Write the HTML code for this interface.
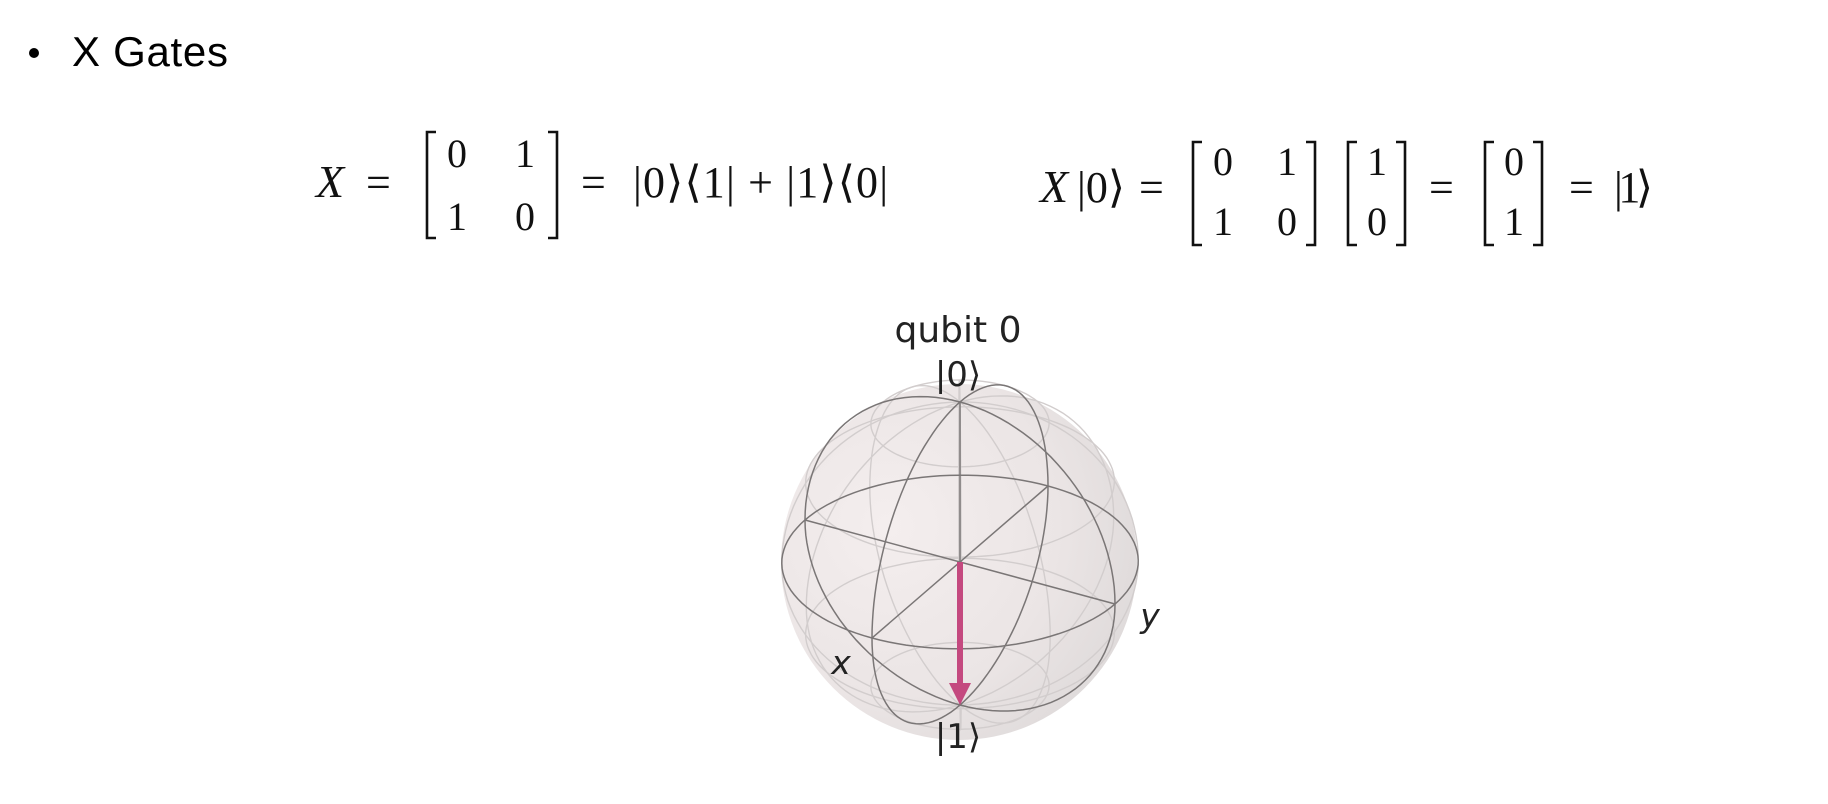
<!DOCTYPE html>
<html><head><meta charset="utf-8">
<style>
html,body{margin:0;padding:0;background:#fff;}
svg{display:block;}
.m{font-family:"Liberation Serif","DejaVu Serif",serif;fill:#111;}
.s{font-family:"DejaVu Sans","Liberation Sans",sans-serif;fill:#222;}
</style></head>
<body>
<svg id="page" width="1828" height="804" viewBox="0 0 1828 804" xmlns="http://www.w3.org/2000/svg">
<defs>
<radialGradient id="sg" cx="0.3" cy="0.4" r="0.8">
<stop offset="0" stop-color="#f4eeee"/>
<stop offset="0.6" stop-color="#ebe5e5"/>
<stop offset="1" stop-color="#dcd8d8"/>
</radialGradient>
</defs>
<circle cx="34" cy="53" r="5" fill="#000"/>
<text x="72" y="66" font-family="Liberation Sans, sans-serif" font-size="42" textLength="156" fill="#000">X Gates</text>

<g class="m">
<text x="316" y="197" font-size="46" font-style="italic" textLength="37">X</text>
<text x="366" y="197" font-size="44" textLength="34">=</text>
<path d="M436,132 H427 V238 H436 M548,132 H557 V238 H548" fill="none" stroke="#111" stroke-width="2.6"/>
<text x="457" y="167" font-size="40" text-anchor="middle">0</text>
<text x="525" y="167" font-size="40" text-anchor="middle">1</text>
<text x="457" y="230" font-size="40" text-anchor="middle">1</text>
<text x="525" y="230" font-size="40" text-anchor="middle">0</text>
<text x="581" y="197" font-size="44" textLength="34">=</text>
<text x="633" y="197" font-size="44" textLength="255">|0⟩⟨1| + |1⟩⟨0|</text>
</g>

<g class="m">
<text x="1040" y="202" font-size="46" font-style="italic" textLength="36">X</text>
<text x="1077" y="202" font-size="44" textLength="48">|0⟩</text>
<text x="1139" y="202" font-size="44" textLength="31">=</text>
<path d="M1202,142 H1193 V245 H1202 M1306,142 H1315 V245 H1306" fill="none" stroke="#111" stroke-width="2.6"/>
<text x="1223" y="175" font-size="40" text-anchor="middle">0</text>
<text x="1287" y="175" font-size="40" text-anchor="middle">1</text>
<text x="1223" y="235" font-size="40" text-anchor="middle">1</text>
<text x="1287" y="235" font-size="40" text-anchor="middle">0</text>
<path d="M1357,142 H1348 V245 H1357 M1396,142 H1405 V245 H1396" fill="none" stroke="#111" stroke-width="2.6"/>
<text x="1377" y="175" font-size="40" text-anchor="middle">1</text>
<text x="1377" y="235" font-size="40" text-anchor="middle">0</text>
<text x="1429" y="202" font-size="44" textLength="30">=</text>
<path d="M1494,142 H1485 V245 H1494 M1533,142 H1542 V245 H1533" fill="none" stroke="#111" stroke-width="2.6"/>
<text x="1514" y="175" font-size="40" text-anchor="middle">0</text>
<text x="1514" y="235" font-size="40" text-anchor="middle">1</text>
<text x="1569" y="202" font-size="44" textLength="30">=</text>
<text x="1614" y="202" font-size="44" textLength="39">|1⟩</text>
</g>

<g id="bloch">
<circle cx="959" cy="562" r="178" fill="url(#sg)"/>
<g id="grid"></g>
<g id="main"></g>
</g>
<text class="s" x="958" y="342" font-size="36" text-anchor="middle">qubit 0</text>
<text class="s" x="958" y="386" font-size="34" text-anchor="middle">|0⟩</text>
<text class="s" x="958" y="748" font-size="34" text-anchor="middle">|1⟩</text>
<text class="s" x="841" y="674" font-size="33" font-style="italic" text-anchor="middle">x</text>
<text class="s" x="1150" y="627" font-size="33" font-style="italic" text-anchor="middle">y</text>

<script>
// state vector (Bloch coordinates)
var stateX = [0];
var stateY = [0];
var stateZ = [-1];
var latitudes = [-60, -30, 30, 60];
var longitudes = [30, 60, 120, 150];

var C = [960, 562];
var ex = [-88, 76], ey = [155, 42];
function proj(x, y, z) {
  var zs = z > 0 ? 160 : 143;
  return [C[0] + x*ex[0] + y*ey[0], C[1] + x*ex[1] + y*ey[1] - z*zs];
}
function pathOf(fn) {
  var d = '';
  for (var i = 0; i <= 120; i++) {
    var t = i / 120 * 2 * Math.PI;
    var p = fn(t);
    var q = proj(p[0], p[1], p[2]);
    d += (i ? 'L' : 'M') + q[0].toFixed(1) + ',' + q[1].toFixed(1);
  }
  return d;
}
var NS = 'http://www.w3.org/2000/svg';
var grid = document.getElementById('grid');
var main = document.getElementById('main');
function addPath(g, d, stroke, w, name) {
  var p = document.createElementNS(NS, 'path');
  p.setAttribute('d', d);
  p.setAttribute('fill', 'none');
  p.setAttribute('stroke', stroke);
  p.setAttribute('stroke-width', w);
  
  
  g.appendChild(p);
}
latitudes.forEach(function (a) {
  var r = Math.cos(a * Math.PI / 180), z = Math.sin(a * Math.PI / 180);
  addPath(grid, pathOf(function (t) { return [r*Math.cos(t), r*Math.sin(t), z]; }), '#d2cdcd', 1.4, 'latitude-line');
});
longitudes.forEach(function (a) {
  var c = Math.cos(a * Math.PI / 180), s = Math.sin(a * Math.PI / 180);
  addPath(grid, pathOf(function (t) { return [c*Math.cos(t), s*Math.cos(t), Math.sin(t)]; }), '#d2cdcd', 1.4, 'longitude-line');
});
var dark = '#7a7676';
addPath(main, pathOf(function (t) { return [Math.cos(t), Math.sin(t), 0]; }), dark, 1.5, 'equator');
addPath(main, pathOf(function (t) { return [Math.cos(t), 0, Math.sin(t)]; }), dark, 1.5, 'xz-meridian');
addPath(main, pathOf(function (t) { return [0, Math.cos(t), Math.sin(t)]; }), dark, 1.5, 'yz-meridian');
function seg(a, b, name) {
  var p = proj(a[0], a[1], a[2]), q = proj(b[0], b[1], b[2]);
  addPath(main, 'M' + p[0] + ',' + p[1] + 'L' + q[0] + ',' + q[1], dark, 1.5, name);
}
seg([1,0,0], [-1,0,0], 'x-axis-line');
seg([0,1,0], [0,-1,0], 'y-axis-line');
seg([0,0,1], [0,0,-1], 'z-axis-line');

// state arrow
var o = proj(0, 0, 0);
var tip = proj(stateX[0], stateY[0], stateZ[0]);
var dx = tip[0] - o[0], dy = tip[1] - o[1], L = Math.sqrt(dx*dx + dy*dy) || 1;
var ux = dx / L, uy = dy / L, hl = 22, hw = 11;
var bx = tip[0] - ux*hl, by = tip[1] - uy*hl;
var shaft = document.createElementNS(NS, 'line');
shaft.setAttribute('x1', o[0]); shaft.setAttribute('y1', o[1]);
shaft.setAttribute('x2', bx); shaft.setAttribute('y2', by);
shaft.setAttribute('stroke', '#c4497f'); shaft.setAttribute('stroke-width', '6');


main.appendChild(shaft);
var head = document.createElementNS(NS, 'polygon');
head.setAttribute('points', tip[0] + ',' + tip[1] + ' ' + (bx - uy*hw) + ',' + (by + ux*hw) + ' ' + (bx + uy*hw) + ',' + (by - ux*hw));
head.setAttribute('fill', '#c4497f');


main.appendChild(head);
</script>
</svg>
</body></html>
